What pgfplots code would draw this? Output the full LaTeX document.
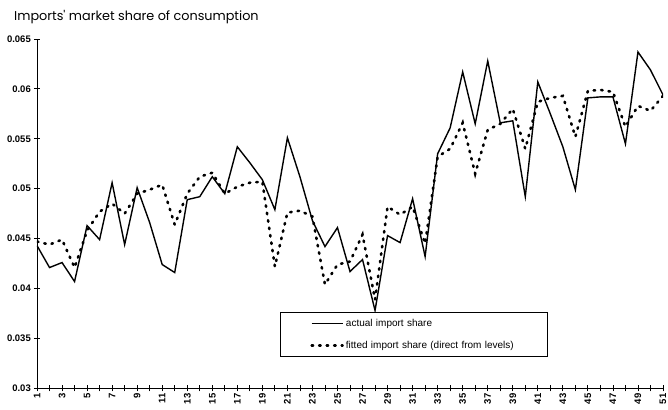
\documentclass[border=0pt]{standalone}
\usepackage{fontspec}
\setmainfont{Liberation Sans}
\newfontfamily\titlefont{Poppins}
\usepackage{pgfplots}
\pgfplotsset{compat=1.18}
\usepackage{pgfplotstable}
\pgfplotstableread{
i actual fitted
1 0.0443 0.0447
2 0.0421 0.0444
3 0.0426 0.0449
4 0.0407 0.0421
5 0.0463 0.0458
6 0.0449 0.0477
7 0.0506 0.0485
8 0.0444 0.0475
9 0.0501 0.0495
10 0.0466 0.0499
11 0.0424 0.0504
12 0.0416 0.0464
13 0.0489 0.0495
14 0.0492 0.0512
15 0.0512 0.0516
16 0.0495 0.0495
17 0.0542 0.0502
18 0.0526 0.0506
19 0.0509 0.0507
20 0.0479 0.0422
21 0.0551 0.0476
22 0.0512 0.0478
23 0.0468 0.0472
24 0.0442 0.0404
25 0.0461 0.0424
26 0.0417 0.0427
27 0.0429 0.0454
28 0.0378 0.0389
29 0.0453 0.0482
30 0.0446 0.0474
31 0.0490 0.0482
32 0.0432 0.0445
33 0.0535 0.0532
34 0.0561 0.0540
35 0.0617 0.0566
36 0.0565 0.0515
37 0.0628 0.0559
38 0.0566 0.0565
39 0.0568 0.0580
40 0.0492 0.0540
41 0.0607 0.0587
42 0.0575 0.0591
43 0.0542 0.0593
44 0.0499 0.0552
45 0.0591 0.0598
46 0.0592 0.0599
47 0.0592 0.0597
48 0.0545 0.0562
49 0.0637 0.0583
50 0.0619 0.0578
51 0.0594 0.0593
}\datatable
\begin{document}
\begin{tikzpicture}[x=1pt,y=1pt]
\useasboundingbox (-37,-20.7) rectangle (631,388.3);
\begin{axis}[
  at={(0,0)}, anchor=south west,
  scale only axis, width=626pt, height=349.3pt,
  xmin=1, xmax=51, ymin=0.03, ymax=0.065,
  scaled y ticks=false,
  axis x line=bottom, axis y line=left,
  axis line style={-, line width=0.9pt},
  tick align=center, major tick length=6pt, minor tick length=6pt,
  every tick/.style={black, line width=0.8pt},
  xtick={1,3,...,51}, minor xtick={2,4,...,50},
  ytick={0.03,0.035,0.04,0.045,0.05,0.055,0.06,0.065},
  yticklabels={0.03,0.035,0.04,0.045,0.05,0.055,0.06,0.065},
  /pgf/number format/assume math mode=true,
  ticklabel style={font=\bfseries\fontsize{9.5}{10}\selectfont},
  x tick label style={rotate=90, anchor=east, inner sep=2pt},
  y tick label style={inner sep=3pt},
  legend style={at={(axis cs:20.4,0.03768)}, anchor=north west,
    draw=black, line width=0.9pt, fill=white,
    font=\fontsize{10}{11}\selectfont, inner xsep=30pt, inner ysep=5pt,
    row sep=9pt, nodes={text width=170pt, inner sep=2pt}},
  legend cell align=left,
  legend image code/.code={\draw[#1] (0pt,0pt) -- (31pt,0pt);},
]
\addplot[black, line width=1.4pt] table[x=i, y=actual] {\datatable};
\addlegendentry{actual import share}
\addplot[black, line width=2.6pt, line cap=round, dash pattern=on 1.5pt off 6pt] table[x=i, y=fitted] {\datatable};
\addlegendentry{fitted import share (direct from levels)}
\end{axis}
\node[anchor=base west, inner sep=0pt, font=\titlefont\fontsize{12.8}{13}\selectfont] at (-23,367.6) {Imports' market share of consumption};
\end{tikzpicture}
\end{document}
